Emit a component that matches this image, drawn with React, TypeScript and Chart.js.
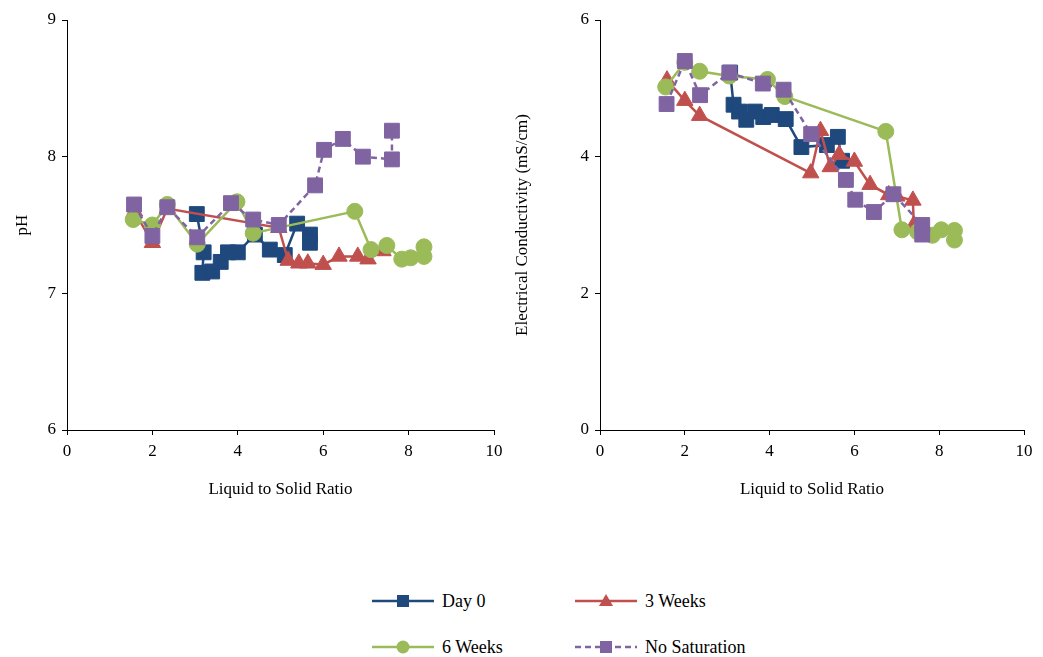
import React, { useEffect, useRef } from "react";
import { Chart, registerables } from "chart.js";
Chart.register(...registerables);

const SERIES_NAMES = ["Day 0", "3 Weeks", "6 Weeks", "No Saturation"];
const COLORS = ["#1F497D", "#C0504D", "#9BBB59", "#8064A2"];
const POINT_STYLES = ["rect", "triangle", "circle", "rect"];
const X_TICKS = [0, 2, 4, 6, 8, 10];
const PH_TICKS = [6, 7, 8, 9];
const EC_TICKS = [0, 2, 4, 6];

// pH chart values
const phDay0X = [3.04, 3.2, 3.17, 3.4, 3.6, 3.77, 4.0, 4.4, 4.75, 5.1, 5.39, 5.69, 5.69];
const phDay0Y = [7.58, 7.3, 7.15, 7.16, 7.23, 7.3, 7.3, 7.43, 7.32, 7.28, 7.51, 7.43, 7.37];
const ph3wX = [1.58, 2.0, 2.35, 4.96, 5.18, 5.43, 5.64, 6.0, 6.37, 6.81, 7.05, 7.4];
const ph3wY = [7.6, 7.37, 7.62, 7.48, 7.24, 7.22, 7.22, 7.21, 7.27, 7.27, 7.25, 7.31];
const ph6wX = [1.55, 2.0, 2.35, 3.05, 3.98, 4.36, 6.74, 7.12, 7.49, 7.84, 8.05, 8.36, 8.36];
const ph6wY = [7.54, 7.5, 7.65, 7.36, 7.67, 7.44, 7.6, 7.32, 7.35, 7.25, 7.26, 7.34, 7.27];
const phNoSatX = [1.57, 2.0, 2.35, 3.05, 3.84, 4.36, 4.96, 5.81, 6.02, 6.46, 6.93, 7.61, 7.61];
const phNoSatY = [7.65, 7.42, 7.63, 7.41, 7.66, 7.54, 7.5, 7.79, 8.05, 8.13, 8.0, 7.98, 8.19];

// Electrical conductivity values
const ecDay0X = [3.07, 3.15, 3.28, 3.45, 3.65, 3.85, 4.05, 4.38, 4.75, 5.35, 5.61, 5.71];
const ecDay0Y = [5.23, 4.76, 4.66, 4.54, 4.66, 4.58, 4.61, 4.55, 4.14, 4.17, 4.29, 3.94];
const ec3wX = [1.58, 2.0, 2.35, 4.97, 5.2, 5.43, 5.64, 6.0, 6.37, 6.81, 7.0, 7.38, 7.4];
const ec3wY = [5.12, 4.82, 4.6, 3.76, 4.38, 3.85, 4.03, 3.93, 3.59, 3.44, 3.42, 3.36, 3.0];
const ec6wX = [1.55, 2.0, 2.35, 3.05, 3.95, 4.36, 6.74, 7.12, 7.49, 7.84, 8.05, 8.36, 8.36];
const ec6wY = [5.02, 5.38, 5.25, 5.18, 5.13, 4.88, 4.37, 2.93, 2.9, 2.85, 2.93, 2.92, 2.78];
const ecNoSatX = [1.57, 2.0, 2.36, 3.05, 3.84, 4.33, 4.98, 5.8, 6.02, 6.46, 6.92, 7.6, 7.6];
const ecNoSatY = [4.77, 5.4, 4.9, 5.23, 5.07, 4.98, 4.33, 3.66, 3.37, 3.19, 3.45, 3.0, 2.86];

const FONT = "'Liberation Serif', 'Times New Roman', serif";

function pts(xs: number[], ys: number[]) {
  return xs.map((x, i) => ({ x, y: ys[i] }));
}

const RADII = [10.5, 9.5, 8, 10.5];

function makeDatasets(series: [number[], number[]][]) {
  return series.map(([xs, ys], i) => ({
    label: SERIES_NAMES[i],
    data: pts(xs, ys),
    showLine: true,
    borderColor: COLORS[i],
    backgroundColor: COLORS[i],
    borderWidth: 2.5,
    borderDash: i === 3 ? [6, 4] : [],
    pointStyle: POINT_STYLES[i],
    pointRadius: RADII[i],
    pointBorderWidth: 1,
    pointBorderColor: COLORS[i],
    pointBackgroundColor: COLORS[i],
    order: 3 - i,
  }));
}

function makeOptions(yTicks: number[], yTitle: string, yWidth: number, rightPad: number) {
  return {
    animation: false,
    responsive: false,
    maintainAspectRatio: false,
    layout: { padding: { left: 12, top: 20, right: rightPad, bottom: 0 } },
    plugins: { legend: { display: false }, tooltip: { enabled: false } },
    scales: {
      x: {
        type: "linear",
        min: X_TICKS[0],
        max: X_TICKS[X_TICKS.length - 1],
        afterBuildTicks: (s: any) => {
          s.ticks = X_TICKS.map((v) => ({ value: v }));
        },
        afterFit: (s: any) => {
          s.height = 70;
        },
        grid: { display: true, drawOnChartArea: false, drawTicks: true, tickLength: 5, color: "#000" },
        border: { display: true, color: "#000", width: 1 },
        ticks: { color: "#000", font: { family: FONT, size: 17 }, padding: 6, maxRotation: 0 },
        title: { display: true, text: "Liquid to Solid Ratio", color: "#000", font: { family: FONT, size: 17 }, padding: 0 },
      },
      y: {
        type: "linear",
        min: yTicks[0],
        max: yTicks[yTicks.length - 1],
        afterBuildTicks: (s: any) => {
          s.ticks = yTicks.map((v) => ({ value: v }));
        },
        afterFit: (s: any) => {
          s.width = yWidth;
        },
        grid: { display: true, drawOnChartArea: false, drawTicks: true, tickLength: 5, color: "#000" },
        border: { display: true, color: "#000", width: 1 },
        ticks: { color: "#000", font: { family: FONT, size: 17 }, padding: 6 },
        title: { display: true, text: yTitle, color: "#000", font: { family: FONT, size: 17 }, padding: 0 },
      },
    },
  } as any;
}

function LegendItem({ i }: { i: number }) {
  const c = COLORS[i];
  let marker: React.ReactNode;
  if (POINT_STYLES[i] === "rect") marker = <rect x={25} y={5} width={12} height={12} fill={c} />;
  else if (POINT_STYLES[i] === "triangle") marker = <polygon points="31,4 38,16 24,16" fill={c} />;
  else marker = <circle cx={31} cy={11} r={6.5} fill={c} />;
  return (
    <div style={{ display: "flex", alignItems: "center", height: 22 }}>
      <svg width={62} height={22} style={{ display: "block" }}>
        <line x1={0} y1={11} x2={62} y2={11} stroke={c} strokeWidth={2.5} strokeDasharray={i === 3 ? "6 4" : undefined} />
        {marker}
      </svg>
      <span style={{ fontFamily: FONT, fontSize: 18, marginLeft: 8, color: "#000" }}>{SERIES_NAMES[i]}</span>
    </div>
  );
}

export default function App() {
  const leftRef = useRef<HTMLCanvasElement>(null);
  const rightRef = useRef<HTMLCanvasElement>(null);

  useEffect(() => {
    const left = new Chart(leftRef.current!, {
      type: "scatter",
      data: {
        datasets: makeDatasets([
          [phDay0X, phDay0Y],
          [ph3wX, ph3wY],
          [ph6wX, ph6wY],
          [phNoSatX, phNoSatY],
        ]) as any,
      },
      options: makeOptions(PH_TICKS, "pH", 55, 26),
    });
    const right = new Chart(rightRef.current!, {
      type: "scatter",
      data: {
        datasets: makeDatasets([
          [ecDay0X, ecDay0Y],
          [ec3wX, ec3wY],
          [ec6wX, ec6wY],
          [ecNoSatX, ecNoSatY],
        ]) as any,
      },
      options: makeOptions(EC_TICKS, "Electrical Conductivity (mS/cm)", 88, 19),
    });
    return () => {
      left.destroy();
      right.destroy();
    };
  }, []);

  return (
    <div style={{ position: "absolute", left: 0, top: 0, width: 1043, height: 657, background: "#fff" }}>
      <canvas ref={leftRef} width={520} height={500} style={{ position: "absolute", left: 0, top: 0, width: 520, height: 500 }} />
      <canvas ref={rightRef} width={543} height={500} style={{ position: "absolute", left: 500, top: 0, width: 543, height: 500 }} />
      <div style={{ position: "absolute", left: 372, top: 590 }}>
        <LegendItem i={0} />
      </div>
      <div style={{ position: "absolute", left: 575, top: 590 }}>
        <LegendItem i={1} />
      </div>
      <div style={{ position: "absolute", left: 372, top: 636 }}>
        <LegendItem i={2} />
      </div>
      <div style={{ position: "absolute", left: 575, top: 636 }}>
        <LegendItem i={3} />
      </div>
    </div>
  );
}
